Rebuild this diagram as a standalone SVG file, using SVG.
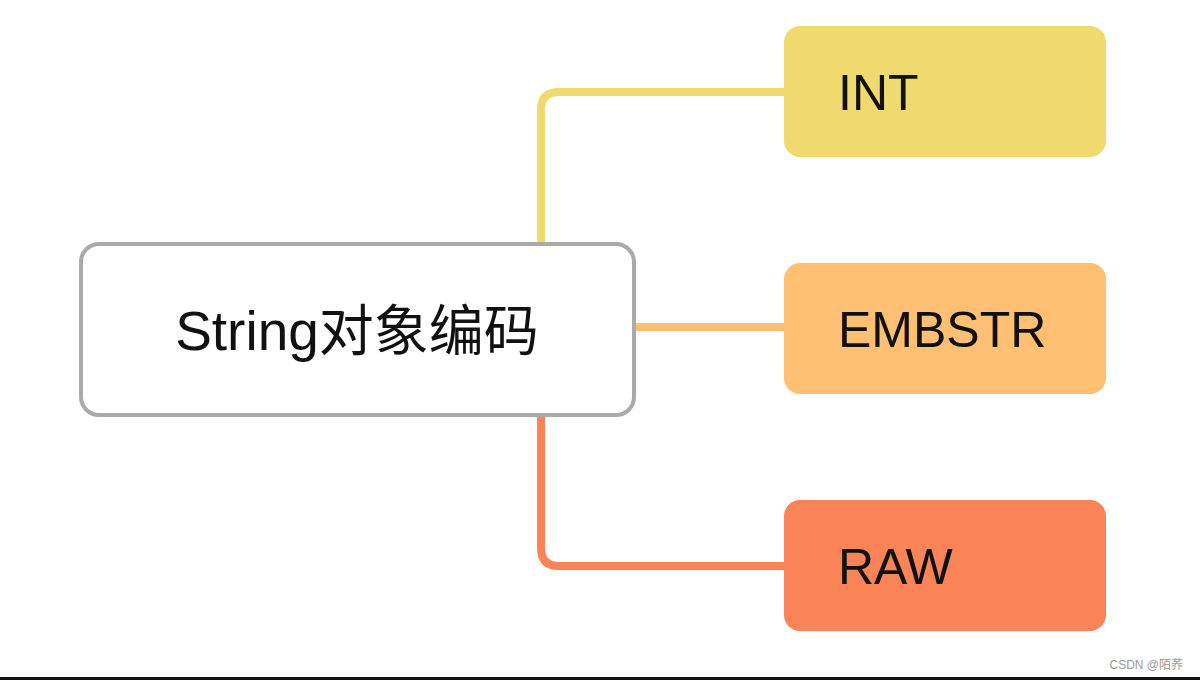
<svg xmlns="http://www.w3.org/2000/svg" width="1200" height="680" viewBox="0 0 1200 680">
<style>
.lbl{font-family:"Liberation Sans","Noto Sans CJK SC",sans-serif;font-size:50px;fill:#111}
.root{font-size:55px}
.conn{fill:none;stroke-width:8;stroke-linecap:butt}
</style>
<rect width="1200" height="680" fill="#fff"/>
<g id="connectors">
<path class="conn" stroke="#f0d96e" d="M541,243 V110 Q541,92 559,92 H786"/>
<path class="conn" stroke="#ffc073" d="M635,327 H786"/>
<path class="conn" stroke="#fa8458" d="M541,416 V548 Q541,566 559,566 H786"/>
</g>
<g id="root">
<rect x="81" y="244" width="553" height="171" rx="18" fill="#fff" stroke="#aaa" stroke-width="4"/>
<text class="lbl root" x="357" y="350" text-anchor="middle">String对象编码</text>
</g>
<g id="int">
<rect x="784" y="26" width="322" height="131" rx="16" fill="#f0d96e"/>
<text class="lbl" x="838" y="110">INT</text>
</g>
<g id="embstr">
<rect x="784" y="263" width="322" height="131" rx="16" fill="#ffc073"/>
<text class="lbl" x="838" y="347">EMBSTR</text>
</g>
<g id="raw">
<rect x="784" y="500" width="322" height="131" rx="16" fill="#fa8458"/>
<text class="lbl" x="838" y="584">RAW</text>
</g>
<text x="1183" y="669" text-anchor="end" font-family="Liberation Sans,Noto Sans CJK SC,sans-serif" font-size="12" fill="#999">CSDN @陌荞</text>
<rect x="0" y="677" width="1200" height="3" fill="#111"/>
</svg>
